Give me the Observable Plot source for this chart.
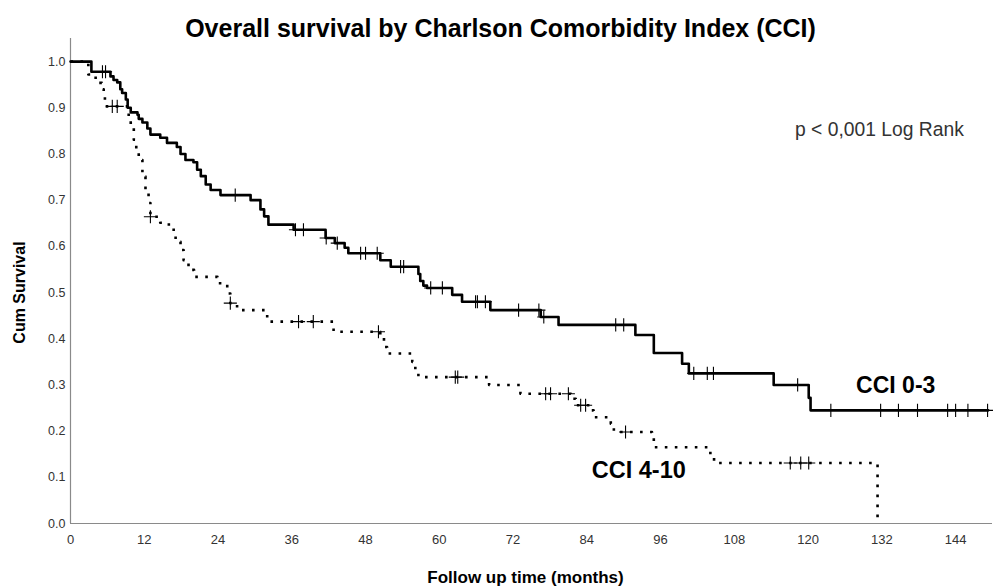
<!DOCTYPE html>
<html>
<head>
<meta charset="utf-8">
<script src="https://cdn.jsdelivr.net/npm/d3@7"></script>
<script src="https://cdn.jsdelivr.net/npm/@observablehq/plot@0.6"></script>
<style>
  html, body { margin: 0; padding: 0; background: #fff; }
  #chart svg { display: block; }
</style>
</head>
<body>
<div id="chart"></div>
<script>
// Kaplan–Meier estimates, CCI 0-3 (months, cumulative survival after each event)
const cci03Time = [0, 3.4, 6.5, 7.0, 7.6, 8.1, 8.4, 9.0, 9.3, 9.8, 10.9, 11.1, 11.7, 12.5, 13.0,
  14.6, 15.7, 17.3, 17.9, 18.7, 20.0, 20.6, 21.2, 22.0, 22.8, 24.4, 29.3, 30.9, 31.5, 32.2,
  36.3, 41.5, 43.0, 44.6, 45.2, 50.4, 52.1, 56.6, 56.9, 57.4, 58.0, 62.1, 63.7, 68.3, 76.5,
  79.4, 91.9, 94.9, 99.5, 100.6, 114.4, 120.1, 120.4, 149.3];
const cci03Surv = [1.0, 0.978, 0.968, 0.96, 0.955, 0.94, 0.932, 0.918, 0.90, 0.89, 0.885, 0.876, 0.868, 0.855, 0.842,
  0.835, 0.824, 0.815, 0.80, 0.787, 0.782, 0.766, 0.752, 0.734, 0.722, 0.711, 0.70, 0.68, 0.665, 0.647,
  0.636, 0.618, 0.607, 0.597, 0.585, 0.57, 0.556, 0.54, 0.525, 0.515, 0.51, 0.495, 0.48, 0.462, 0.447,
  0.43, 0.408, 0.369, 0.346, 0.325, 0.30, 0.272, 0.245, 0.245];
const cci03Censor = [5.2, 5.7, 26.8, 36.6, 37.9, 41.6, 43.4, 47.2, 48.0, 49.9, 53.7, 54.2, 58.6, 60.5,
  65.9, 66.2, 67.5, 72.9, 76.2, 77.0, 88.7, 90.0, 101.4, 103.6, 104.6, 118.3, 123.7, 131.8, 134.7,
  137.8, 142.7, 144.0, 146.0, 149.2];

// Kaplan–Meier estimates, CCI 4-10
const cci410Time = [0, 2.9, 3.8, 4.6, 5.1, 5.4, 5.6, 9.2, 9.8, 10.3, 10.7, 11.1, 11.7, 12.2, 12.7, 13.0,
  14.6, 16.0, 17.1, 17.9, 18.4, 19.2, 20.1, 23.9, 25.5, 26.0, 27.1, 32.0, 42.8, 50.4, 51.0, 51.5,
  55.6, 56.1, 56.6, 68.1, 73.2, 81.4, 82.2, 84.6, 85.1, 87.9, 88.4, 94.6, 94.9, 104.1, 104.7, 131.3];
const cci410Surv = [1.0, 0.972, 0.965, 0.954, 0.94, 0.925, 0.903, 0.885, 0.86, 0.831, 0.81, 0.787, 0.751, 0.716, 0.694, 0.664,
  0.651, 0.636, 0.61, 0.592, 0.57, 0.549, 0.534, 0.52, 0.498, 0.477, 0.462, 0.437, 0.415, 0.404, 0.382, 0.368,
  0.35, 0.332, 0.317, 0.30, 0.281, 0.27, 0.256, 0.245, 0.23, 0.216, 0.198, 0.187, 0.165, 0.147, 0.131, 0.0];
const cci410Censor = [6.8, 7.6, 13.0, 26.0, 37.1, 39.5, 50.1, 62.6, 63.0, 77.3, 78.1, 81.0, 83.0, 83.8,
  90.3, 117.1, 118.8, 120.1];

// Axis ticks
const xTicks = [0, 12, 24, 36, 48, 60, 72, 84, 96, 108, 120, 132, 144];
const yTicks = [0, 0.1, 0.2, 0.3, 0.4, 0.5, 0.6, 0.7, 0.8, 0.9, 1.0];

// Texts
const titleText = "Overall survival by Charlson Comorbidity Index (CCI)";
const xLabel = "Follow up time (months)";
const yLabel = "Cum Survival";
const pText = "p < 0,001 Log Rank";
const groupNames = ["CCI 0-3", "CCI 4-10"];

// Build step tables and censor points
const steps = (times, surv) => times.map((t, i) => ({time: t, surv: surv[i]}));
const survAt = (times, surv, t) => surv[Math.max(0, d3.bisectRight(times, t) - 1)];
const censorPts = (censor, times, surv) => censor.map(t => ({time: t, surv: survAt(times, surv, t)}));

const s03 = steps(cci03Time, cci03Surv);
const s410 = steps(cci410Time, cci410Surv);
const c03 = censorPts(cci03Censor, cci03Time, cci03Surv);
const c410 = censorPts(cci410Censor, cci410Time, cci410Surv);

const font = "'Liberation Sans', Arial, Helvetica, sans-serif";

const chart = Plot.plot({
  width: 993,
  height: 586,
  marginLeft: 70,
  marginRight: 1,
  marginTop: 38,
  marginBottom: 63,
  style: {fontFamily: font, background: "#fff", color: "#333"},
  x: {domain: [0, 150]},
  y: {domain: [0, 1.05]},
  marks: [
    Plot.axisX({ticks: xTicks, tickSize: 0, tickPadding: 11, fontSize: 13, label: null, fill: "#333"}),
    Plot.axisY({ticks: yTicks, tickSize: 0, tickPadding: 5, fontSize: 12.5, label: null, fill: "#333",
      tickFormat: d3.format(".1f")}),
    Plot.ruleY([0], {stroke: "#8a8a8a", strokeWidth: 1.2}),
    Plot.ruleX([0], {stroke: "#8a8a8a", strokeWidth: 1.2}),
    Plot.line(s410, {x: "time", y: "surv", curve: "step-after", stroke: "#000",
      strokeWidth: 2.6, strokeDasharray: "2.6,7.4", strokeLinecap: "butt"}),
    Plot.dot(c410, {x: "time", y: "surv", symbol: "plus", r: 4.3, stroke: "#000", strokeWidth: 1.1}),
    Plot.line(s03, {x: "time", y: "surv", curve: "step-after", stroke: "#000", strokeWidth: 2.6}),
    Plot.dot(c03, {x: "time", y: "surv", symbol: "plus", r: 4.3, stroke: "#000", strokeWidth: 1.1}),
    // Group labels
    Plot.text([groupNames[0]], {x: 140.7, y: 0.298, text: d => d, fontSize: 23, fontWeight: "bold",
      fill: "#000", textAnchor: "end"}),
    Plot.text([groupNames[1]], {x: 100.1, y: 0.115, text: d => d, fontSize: 23.5, fontWeight: "bold",
      fill: "#000", textAnchor: "end"}),
    // Log-rank test
    Plot.text([pText], {x: 131.6, y: 0.852, text: d => d, fontSize: 19.3, fill: "#333"}),
    // Title and axis titles
    Plot.text([titleText], {frameAnchor: "top", dx: -31, dy: -10, lineAnchor: "middle", text: d => d,
      fontSize: 25, fontWeight: "bold", fill: "#000"}),
    Plot.text([xLabel], {frameAnchor: "bottom", dx: -6, dy: 54, lineAnchor: "middle", text: d => d,
      fontSize: 17, fontWeight: "bold", fill: "#000"}),
    Plot.text([yLabel], {x: -8.2, y: 0.5, rotate: -90, text: d => d,
      fontSize: 16, fontWeight: "bold", fill: "#000"})
  ]
});

document.getElementById("chart").append(chart);
</script>
</body>
</html>
